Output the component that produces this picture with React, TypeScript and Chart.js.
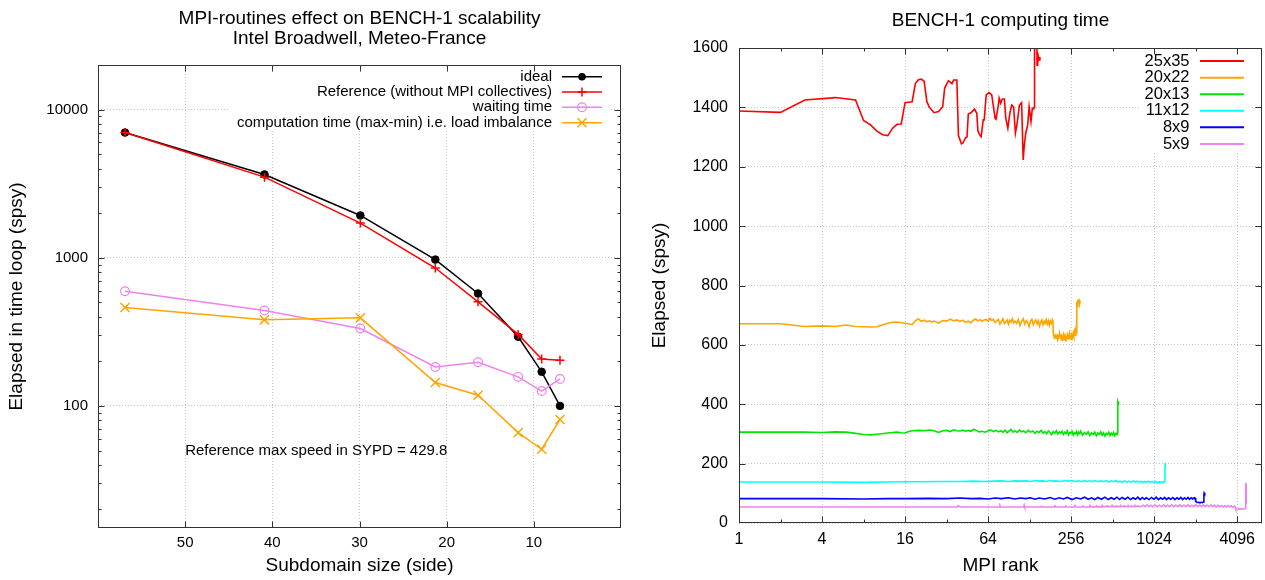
import React, { useEffect, useRef } from 'react';
import { Chart, registerables } from 'chart.js';

Chart.register(...registerables);

const FONT_FAMILY = '"Liberation Sans", Arial, Helvetica, sans-serif';

// ---------------- Left panel data ----------------
const subdomainSides = [56.9, 40.9, 29.9, 21.3, 16.4, 11.8, 9.1, 7.0];
const idealTime = [7000, 3650, 1930, 972, 574, 293, 170, 100];
const referenceTime = [7000, 3500, 1715, 853, 504, 304, 207, 203];
const waitingTime = [594, 441, 333, 183, 197, 157, 126, 152];
const imbalanceTime = [462, 381, 393, 144, 118, 66, 51, 81];
const sideTicks = [10, 20, 30, 40, 50];
const timeLoopTicks = [100, 1000, 10000];
const timeLoopMinorTicks = [20, 30, 40, 50, 60, 70, 80, 90, 200, 300, 400, 500, 600, 700, 800, 900, 2000, 3000, 4000, 5000, 6000, 7000, 8000, 9000];
const leftLegendLabels = ['ideal', 'Reference (without MPI collectives)', 'waiting time', 'computation time (max-min) i.e. load imbalance'];
const speedNote = 'Reference max speed in SYPD = 429.8';

// ---------------- Right panel data ([MPI rank, elapsed spsy]) ----------------
const run25x35: [number, number][] = [
  [1, 1388], [2, 1383], [3, 1425], [5, 1433], [7, 1425], [8, 1356], [9, 1341], [10, 1320], [11, 1308], [12, 1305],
  [13, 1330], [14, 1343], [15, 1344], [16, 1416], [18, 1419], [19, 1480], [20, 1493], [21, 1495], [22, 1488], [23, 1420],
  [24, 1400], [26, 1382], [28, 1386], [30, 1402], [31, 1465], [33, 1490], [35, 1480], [36, 1492], [38, 1492], [39, 1305],
  [41, 1277], [42, 1280], [44, 1298], [45, 1300], [46, 1378], [48, 1382], [51, 1394], [53, 1380], [54, 1320], [56, 1305],
  [57, 1301], [59, 1358], [60, 1358], [62, 1442], [65, 1450], [68, 1442], [70, 1402], [72, 1362], [73, 1360], [76, 1408],
  [77, 1431], [79, 1414], [81, 1428], [84, 1428], [86, 1363], [89, 1330], [92, 1380], [95, 1408], [98, 1402], [101, 1313],
  [104, 1347], [108, 1408], [112, 1416], [115, 1223], [117, 1270], [120, 1313], [124, 1341], [127, 1402], [131, 1352], [134, 1397],
  [137, 1395], [138, 1400], [139, 1700], [144, 1700], [145, 1542], [146, 1565], [147, 1548], [148, 1572], [150, 1560], [152, 1570],
];
const run20x22: [number, number][] = [
  [1, 671], [2, 671], [3, 662], [4, 664], [5, 662], [6, 667], [7, 662], [9, 660], [10, 661], [12, 673],
  [13, 676], [14, 677], [16, 673], [17, 671], [18, 668], [19, 682], [20, 687], [21, 679], [22, 683], [23, 678],
  [24, 681], [25, 677], [26, 680], [28, 673], [30, 682], [32, 680], [34, 687], [36, 681], [38, 684], [40, 679],
  [42, 683], [44, 676], [46, 680], [48, 674], [50, 683], [52, 687], [54, 681], [56, 685], [58, 679], [60, 684],
  [62, 686], [64, 680], [66, 690], [68, 682], [70, 686], [72, 675], [74, 681], [76, 686], [78, 670], [80, 679],
  [82, 688], [84, 672], [86, 676], [88, 684], [90, 669], [92, 683], [94, 677], [96, 688], [98, 674], [100, 680],
  [103, 672], [106, 685], [109, 665], [112, 679], [115, 688], [118, 670], [121, 682], [124, 675], [127, 661], [130, 680],
  [133, 686], [136, 668], [139, 678], [142, 684], [145, 671], [148, 681], [151, 663], [154, 676], [157, 684], [160, 668],
  [163, 680], [166, 672], [169, 685], [172, 670], [175, 681], [178, 666], [181, 680], [184, 673], [187, 684], [189, 676],
  [190, 638], [193, 625], [196, 632], [199, 622], [202, 636], [205, 618], [208, 628], [211, 640], [214, 624], [217, 631],
  [220, 616], [223, 628], [226, 637], [229, 622], [232, 630], [235, 612], [238, 626], [241, 635], [244, 620], [247, 628],
  [250, 640], [253, 625], [256, 618], [259, 632], [262, 626], [265, 640], [268, 630], [271, 645], [274, 633], [277, 646],
  [279, 640], [281, 700], [282, 745], [284, 730], [286, 752], [289, 740], [292, 755], [295, 738], [298, 750],
];
const run20x13: [number, number][] = [
  [1, 306], [2, 306], [3, 306], [4, 305], [5, 307], [6, 306], [7, 302], [8, 298], [9, 297], [10, 299],
  [12, 303], [14, 306], [15, 304], [16, 303], [17, 308], [18, 311], [20, 312], [22, 311], [24, 313], [26, 311],
  [28, 305], [30, 311], [32, 312], [34, 308], [36, 314], [38, 311], [40, 310], [42, 313], [44, 309], [46, 312],
  [48, 309], [50, 315], [52, 313], [55, 307], [58, 309], [61, 306], [64, 311], [67, 313], [70, 308], [73, 312],
  [76, 307], [79, 311], [82, 306], [85, 313], [88, 304], [91, 310], [94, 315], [97, 306], [100, 311], [104, 305],
  [108, 313], [112, 307], [116, 310], [120, 304], [125, 312], [130, 306], [135, 310], [140, 302], [145, 309], [150, 305],
  [155, 312], [160, 303], [165, 308], [170, 301], [175, 310], [180, 305], [185, 298], [190, 308], [195, 302], [200, 311],
  [205, 300], [210, 307], [215, 303], [220, 309], [225, 298], [230, 306], [235, 301], [240, 310], [245, 297], [250, 305],
  [255, 302], [260, 309], [265, 296], [270, 304], [275, 300], [280, 308], [285, 297], [290, 306], [295, 301], [300, 309],
  [310, 296], [320, 305], [330, 299], [340, 307], [350, 295], [360, 304], [370, 298], [380, 306], [390, 294], [400, 303],
  [410, 299], [420, 307], [430, 296], [440, 304], [450, 293], [460, 302], [470, 298], [480, 306], [490, 295], [500, 303],
  [510, 297], [520, 305], [530, 294], [540, 302], [550, 298], [556, 304], [557, 340], [558, 398], [560, 405], [562, 400], [565, 410],
];
const run11x12: [number, number][] = [
  [1, 138], [2, 138], [4, 138], [8, 137], [12, 138], [16, 139], [20, 139], [30, 140], [40, 140], [50, 141],
  [60, 140], [70, 141], [80, 142], [90, 140], [100, 142], [110, 141], [120, 142], [130, 140], [140, 143], [150, 141],
  [160, 142], [170, 140], [180, 143], [190, 141], [200, 142], [215, 140], [230, 143], [245, 141], [260, 143], [275, 140],
  [290, 142], [305, 139], [320, 143], [335, 140], [350, 142], [365, 139], [380, 143], [400, 140], [420, 142], [440, 139],
  [460, 143], [480, 138], [500, 142], [520, 139], [540, 143], [560, 138], [580, 141], [600, 137], [625, 142], [650, 138],
  [675, 141], [700, 137], [725, 142], [750, 138], [775, 141], [800, 137], [825, 141], [850, 136], [875, 140], [900, 137],
  [930, 141], [960, 136], [990, 140], [1020, 136], [1050, 140], [1080, 135], [1110, 139], [1140, 136], [1170, 139], [1200, 136],
  [1225, 140], [1228, 190], [1230, 202], [1232, 198], [1234, 203],
];
const run8x9: [number, number][] = [
  [1, 82], [2, 82], [4, 82], [8, 81], [12, 82], [16, 82], [24, 83], [32, 82], [40, 84], [48, 82],
  [56, 83], [64, 81], [72, 84], [80, 82], [90, 85], [100, 81], [110, 84], [120, 82], [130, 85], [140, 80],
  [150, 84], [165, 81], [180, 86], [195, 80], [210, 85], [225, 81], [240, 86], [260, 79], [280, 85], [300, 81],
  [320, 87], [340, 80], [360, 85], [380, 79], [400, 86], [425, 80], [450, 87], [475, 79], [500, 85], [525, 80],
  [550, 87], [575, 79], [600, 86], [630, 80], [660, 87], [690, 79], [720, 85], [750, 80], [780, 87], [810, 79],
  [840, 86], [870, 80], [900, 85], [940, 79], [980, 86], [1020, 80], [1060, 87], [1100, 79], [1140, 85], [1180, 80],
  [1220, 86], [1260, 79], [1300, 85], [1350, 80], [1400, 86], [1450, 79], [1500, 85], [1550, 80], [1600, 86], [1650, 79],
  [1700, 85], [1750, 80], [1800, 86], [1850, 80], [1900, 85], [1950, 81], [2000, 85], [2030, 84], [2050, 72], [2100, 69],
  [2150, 70], [2200, 68], [2250, 70], [2300, 69], [2330, 71], [2350, 95], [2360, 101], [2380, 98], [2400, 102],
];
const run5x9: [number, number][] = [
  [1, 54], [38, 54], [39, 58], [40, 54], [77, 54], [78, 59], [79, 54], [116, 54], [117, 60], [118, 54],
  [155, 54], [156, 59], [157, 54], [194, 54], [195, 61], [196, 54], [233, 54], [234, 60], [235, 54], [272, 54],
  [273, 62], [274, 54], [311, 54], [312, 60], [313, 54], [350, 54], [351, 62], [352, 55], [389, 54], [390, 61],
  [391, 55], [428, 54], [429, 62], [430, 55], [467, 55], [468, 61], [469, 55], [506, 55], [507, 62], [508, 55],
  [545, 55], [546, 61], [547, 55], [584, 55], [585, 62], [586, 56], [623, 55], [624, 61], [625, 56], [662, 55],
  [663, 62], [664, 56], [701, 55], [702, 61], [703, 56], [740, 55], [741, 62], [742, 56], [779, 56], [780, 61],
  [781, 56], [820, 55], [850, 60], [880, 55], [910, 61], [940, 55], [970, 60], [1000, 55], [1040, 61], [1080, 55],
  [1120, 60], [1160, 55], [1200, 61], [1240, 55], [1280, 60], [1320, 55], [1370, 61], [1420, 55], [1470, 60], [1520, 55],
  [1570, 61], [1620, 55], [1680, 60], [1740, 55], [1800, 61], [1860, 55], [1920, 60], [1980, 55], [2050, 61], [2120, 55],
  [2190, 60], [2260, 55], [2330, 61], [2400, 55], [2480, 60], [2560, 55], [2640, 61], [2720, 55], [2800, 60], [2880, 54],
  [2970, 60], [3060, 54], [3150, 59], [3240, 54], [3330, 59], [3420, 54], [3520, 59], [3620, 54], [3720, 58], [3820, 53],
  [3920, 57], [3980, 52], [4000, 48], [4100, 47], [4200, 48], [4300, 47], [4400, 48], [4500, 47], [4600, 47], [4700, 48],
  [4720, 135], [4750, 128], [4760, 62],
];
const decompLabels = ['25x35', '20x22', '20x13', '11x12', '8x9', '5x9'];
const rankTicks = [1, 4, 16, 64, 256, 1024, 4096];
const rankMinorTicks = [2, 8, 32, 128, 512, 2048];
const elapsedTicks = [0, 200, 400, 600, 800, 1000, 1200, 1400, 1600];

// ---------------- styling ----------------
const COLORS = {
  ideal: '#000000',
  reference: '#ff0000',
  waiting: '#ee82ee',
  imbalance: '#ffa500',
};
const RUN_COLORS = ['#ff0000', '#ffa500', '#00e600', '#00ffff', '#0000ff', '#ee82ee'];
const GRID_COLOR = 'rgba(160,160,160,0.6)';
const FRAME_COLOR = '#333333';

type Marker = 'dot' | 'plus' | 'ring' | 'cross' | 'none';

interface DecorCfg {
  titleLines: string[];
  titleYs: number[];
  titleSize: number;
  xTitle: string;
  xTitleY: number;
  yTitle: string;
  yTitleX: number;
  axisTitleSize: number;
  legendLabels: string[];
  legendColors: string[];
  legendMarkers: Marker[];
  legendRight: number;
  legendLine: [number, number];
  legendRows: number[];
  legendSize: number;
  legendLineWidth: number;
  legendBox: [number, number, number, number];
  xMajor: number[];
  xMinor: number[];
  yMajor: number[];
  yMinor: number[];
  note?: { text: string; x: number; y: number; size: number };
}

function drawMarker(ctx: CanvasRenderingContext2D, m: Marker, x: number, y: number, color: string) {
  ctx.save();
  ctx.strokeStyle = color;
  ctx.fillStyle = color;
  ctx.lineWidth = 1.5;
  ctx.beginPath();
  if (m === 'dot') {
    ctx.arc(x, y, 3.8, 0, Math.PI * 2);
    ctx.fill();
  } else if (m === 'plus') {
    ctx.moveTo(x - 4.5, y);
    ctx.lineTo(x + 4.5, y);
    ctx.moveTo(x, y - 4.5);
    ctx.lineTo(x, y + 4.5);
    ctx.stroke();
  } else if (m === 'ring') {
    ctx.lineWidth = 1.2;
    ctx.arc(x, y, 4.4, 0, Math.PI * 2);
    ctx.stroke();
  } else if (m === 'cross') {
    ctx.moveTo(x - 4.5, y - 4.5);
    ctx.lineTo(x + 4.5, y + 4.5);
    ctx.moveTo(x - 4.5, y + 4.5);
    ctx.lineTo(x + 4.5, y - 4.5);
    ctx.stroke();
  }
  ctx.restore();
}

function makeDecor(cfg: DecorCfg) {
  return {
    id: 'gnuplotDecor',
    afterDatasetsDraw(chart: any) {
      const ctx: CanvasRenderingContext2D = chart.ctx;
      const a = chart.chartArea;
      const xs = chart.scales.x;
      const ys = chart.scales.y;
      ctx.save();

      // annotation text
      if (cfg.note) {
        ctx.font = `${cfg.note.size}px ${FONT_FAMILY}`;
        ctx.fillStyle = '#000';
        ctx.textAlign = 'left';
        ctx.textBaseline = 'middle';
        ctx.fillText(cfg.note.text, xs.getPixelForValue(cfg.note.x), ys.getPixelForValue(cfg.note.y));
      }

      // opaque key box
      const [bx0, by0, bx1, by1] = cfg.legendBox;
      ctx.fillStyle = '#ffffff';
      ctx.fillRect(bx0, by0, bx1 - bx0, by1 - by0);

      // key
      ctx.font = `${cfg.legendSize}px ${FONT_FAMILY}`;
      ctx.textAlign = 'right';
      ctx.textBaseline = 'middle';
      cfg.legendLabels.forEach((label, i) => {
        const y = cfg.legendRows[i];
        ctx.fillStyle = '#000';
        ctx.fillText(label, cfg.legendRight, y);
        ctx.strokeStyle = cfg.legendColors[i];
        ctx.lineWidth = cfg.legendLineWidth;
        ctx.beginPath();
        ctx.moveTo(cfg.legendLine[0], y);
        ctx.lineTo(cfg.legendLine[1], y);
        ctx.stroke();
        drawMarker(ctx, cfg.legendMarkers[i], (cfg.legendLine[0] + cfg.legendLine[1]) / 2, y, cfg.legendColors[i]);
      });

      // frame
      ctx.strokeStyle = FRAME_COLOR;
      ctx.lineWidth = 1;
      const L = Math.round(a.left) + 0.5;
      const R = Math.round(a.right) - 0.5;
      const T = Math.round(a.top) + 0.5;
      const B = Math.round(a.bottom) - 0.5;
      ctx.strokeRect(L, T, R - L, B - T);

      // inward tick marks (mirrored)
      ctx.beginPath();
      const xt = (vals: number[], len: number) => {
        vals.forEach((v) => {
          const p = Math.round(xs.getPixelForValue(v)) + 0.5;
          if (p < L + 1 || p > R - 1) return;
          ctx.moveTo(p, B);
          ctx.lineTo(p, B - len);
          ctx.moveTo(p, T);
          ctx.lineTo(p, T + len);
        });
      };
      const yt = (vals: number[], len: number) => {
        vals.forEach((v) => {
          const p = Math.round(ys.getPixelForValue(v)) + 0.5;
          if (p < T + 1 || p > B - 1) return;
          ctx.moveTo(L, p);
          ctx.lineTo(L + len, p);
          ctx.moveTo(R, p);
          ctx.lineTo(R - len, p);
        });
      };
      xt(cfg.xMajor, 6);
      xt(cfg.xMinor, 3);
      yt(cfg.yMajor, 6);
      yt(cfg.yMinor, 3);
      ctx.stroke();

      // titles
      const cx = (a.left + a.right) / 2;
      const cy = (a.top + a.bottom) / 2;
      ctx.fillStyle = '#000';
      ctx.textAlign = 'center';
      ctx.textBaseline = 'middle';
      ctx.font = `${cfg.titleSize}px ${FONT_FAMILY}`;
      cfg.titleLines.forEach((t, i) => ctx.fillText(t, cx, cfg.titleYs[i]));
      ctx.font = `${cfg.axisTitleSize}px ${FONT_FAMILY}`;
      ctx.fillText(cfg.xTitle, cx, cfg.xTitleY);
      ctx.save();
      ctx.translate(cfg.yTitleX, cy);
      ctx.rotate(-Math.PI / 2);
      ctx.fillText(cfg.yTitle, 0, 0);
      ctx.restore();

      ctx.restore();
    },
  };
}

function LeftChart() {
  const ref = useRef<HTMLCanvasElement>(null);
  useEffect(() => {
    const pts = (vals: number[]) => subdomainSides.map((s, i) => ({ x: s, y: vals[i] }));
    const decor = makeDecor({
      titleLines: ['MPI-routines effect on BENCH-1 scalability', 'Intel Broadwell, Meteo-France'],
      titleYs: [19, 38.5],
      titleSize: 19,
      xTitle: 'Subdomain size (side)',
      xTitleY: 565.5,
      yTitle: 'Elapsed in time loop (spsy)',
      yTitleX: 16.5,
      axisTitleSize: 19,
      legendLabels: leftLegendLabels,
      legendColors: [COLORS.ideal, COLORS.reference, COLORS.waiting, COLORS.imbalance],
      legendMarkers: ['dot', 'plus', 'ring', 'cross'],
      legendRight: 552,
      legendLine: [562, 602],
      legendRows: [76.7, 92, 107.3, 122.7],
      legendSize: 15,
      legendLineWidth: 1.5,
      legendBox: [228, 68, 610, 131],
      xMajor: sideTicks,
      xMinor: [],
      yMajor: timeLoopTicks,
      yMinor: timeLoopMinorTicks,
      note: { text: speedNote, x: 50, y: 50, size: 15 },
    });
    const chart = new Chart(ref.current as HTMLCanvasElement, {
      type: 'line',
      data: {
        datasets: [
          {
            label: leftLegendLabels[0],
            data: pts(idealTime),
            borderColor: COLORS.ideal,
            backgroundColor: COLORS.ideal,
            borderWidth: 1.5,
            pointStyle: 'circle',
            pointRadius: 3.8,
            pointBorderWidth: 1,
            order: 4,
          },
          {
            label: leftLegendLabels[1],
            data: pts(referenceTime),
            borderColor: COLORS.reference,
            backgroundColor: COLORS.reference,
            borderWidth: 1.5,
            pointStyle: 'cross',
            pointRadius: 4.5,
            pointBorderWidth: 1.5,
            order: 3,
          },
          {
            label: leftLegendLabels[2],
            data: pts(waitingTime),
            borderColor: COLORS.waiting,
            backgroundColor: 'rgba(0,0,0,0)',
            borderWidth: 1.5,
            pointStyle: 'circle',
            pointRadius: 4.4,
            pointBorderWidth: 1.2,
            order: 2,
          },
          {
            label: leftLegendLabels[3],
            data: pts(imbalanceTime),
            borderColor: COLORS.imbalance,
            backgroundColor: COLORS.imbalance,
            borderWidth: 1.5,
            pointStyle: 'crossRot',
            pointRadius: 6.4,
            pointBorderWidth: 1.5,
            order: 1,
          },
        ],
      },
      options: {
        responsive: false,
        animation: false,
        devicePixelRatio: 1,
        layout: { padding: { top: 65, right: 19, left: 0, bottom: 0 } },
        plugins: { legend: { display: false }, title: { display: false }, tooltip: { enabled: false } },
        elements: { line: { tension: 0 } },
        scales: {
          x: {
            type: 'linear',
            reverse: true,
            min: 0,
            max: 60,
            afterBuildTicks: (s: any) => {
              s.ticks = sideTicks.map((value) => ({ value }));
            },
            afterFit: (s: any) => {
              s.height = 52;
            },
            grid: { color: GRID_COLOR, lineWidth: 1, drawTicks: false },
            border: { display: false, dash: [1, 2] },
            ticks: {
              color: '#000',
              font: { family: FONT_FAMILY, size: 15 },
              padding: 6,
              maxRotation: 0,
              autoSkip: false,
              callback: (v: any) => String(v),
            },
          },
          y: {
            type: 'logarithmic',
            min: 15,
            max: 20000,
            afterBuildTicks: (s: any) => {
              s.ticks = timeLoopTicks.map((value) => ({ value }));
            },
            afterFit: (s: any) => {
              s.width = 98;
            },
            grid: { color: GRID_COLOR, lineWidth: 1, drawTicks: false },
            border: { display: false, dash: [1, 2] },
            ticks: {
              color: '#000',
              font: { family: FONT_FAMILY, size: 15 },
              padding: 10,
              autoSkip: false,
              callback: (v: any) => String(v),
            },
          },
        },
      },
      plugins: [decor],
    } as any);
    return () => chart.destroy();
  }, []);
  return <canvas ref={ref} width={640} height={580} style={{ display: 'block', width: 640, height: 580 }} />;
}

function RightChart() {
  const ref = useRef<HTMLCanvasElement>(null);
  useEffect(() => {
    const runs = [run25x35, run20x22, run20x13, run11x12, run8x9, run5x9];
    const decor = makeDecor({
      titleLines: ['BENCH-1 computing time'],
      titleYs: [20.5],
      titleSize: 19,
      xTitle: 'MPI rank',
      xTitleY: 565.5,
      yTitle: 'Elapsed (spsy)',
      yTitleX: 20,
      axisTitleSize: 19,
      legendLabels: decompLabels,
      legendColors: RUN_COLORS,
      legendMarkers: ['none', 'none', 'none', 'none', 'none', 'none'],
      legendRight: 549.5,
      legendLine: [560, 604],
      legendRows: [61, 77.7, 94.3, 110.7, 127.3, 144],
      legendSize: 16.5,
      legendLineWidth: 2,
      legendBox: [500, 52, 612, 153],
      xMajor: rankTicks,
      xMinor: rankMinorTicks,
      yMajor: elapsedTicks,
      yMinor: [],
    });
    const chart = new Chart(ref.current as HTMLCanvasElement, {
      type: 'line',
      data: {
        datasets: runs.map((run, i) => ({
          label: decompLabels[i],
          data: run.map(([x, y]) => ({ x, y })),
          borderColor: RUN_COLORS[i],
          backgroundColor: RUN_COLORS[i],
          borderWidth: 1.6,
          pointRadius: 0,
          order: runs.length - i,
        })),
      },
      options: {
        responsive: false,
        animation: false,
        devicePixelRatio: 1,
        layout: { padding: { top: 48, right: 3, left: 0, bottom: 0 } },
        plugins: { legend: { display: false }, title: { display: false }, tooltip: { enabled: false } },
        elements: { line: { tension: 0 } },
        scales: {
          x: {
            type: 'logarithmic',
            min: 1,
            max: 6200,
            afterBuildTicks: (s: any) => {
              s.ticks = rankTicks.map((value) => ({ value }));
            },
            afterFit: (s: any) => {
              s.height = 57;
            },
            grid: { color: GRID_COLOR, lineWidth: 1, drawTicks: false },
            border: { display: false, dash: [1, 2] },
            ticks: {
              color: '#000',
              font: { family: FONT_FAMILY, size: 16 },
              padding: 7,
              maxRotation: 0,
              autoSkip: false,
              callback: (v: any) => String(v),
            },
          },
          y: {
            type: 'linear',
            min: 0,
            max: 1600,
            afterBuildTicks: (s: any) => {
              s.ticks = elapsedTicks.map((value) => ({ value }));
            },
            afterFit: (s: any) => {
              s.width = 99;
            },
            grid: { color: GRID_COLOR, lineWidth: 1, drawTicks: false },
            border: { display: false, dash: [1, 2] },
            ticks: {
              color: '#000',
              font: { family: FONT_FAMILY, size: 16 },
              padding: 11,
              autoSkip: false,
              callback: (v: any) => String(v),
            },
          },
        },
      },
      plugins: [decor],
    } as any);
    return () => chart.destroy();
  }, []);
  return <canvas ref={ref} width={625} height={580} style={{ display: 'block', width: 625, height: 580 }} />;
}

export default function App() {
  return (
    <div
      style={{
        position: 'fixed',
        left: 0,
        top: 0,
        width: 1265,
        height: 580,
        background: '#ffffff',
        display: 'flex',
        overflow: 'hidden',
      }}
    >
      <LeftChart />
      <RightChart />
    </div>
  );
}
